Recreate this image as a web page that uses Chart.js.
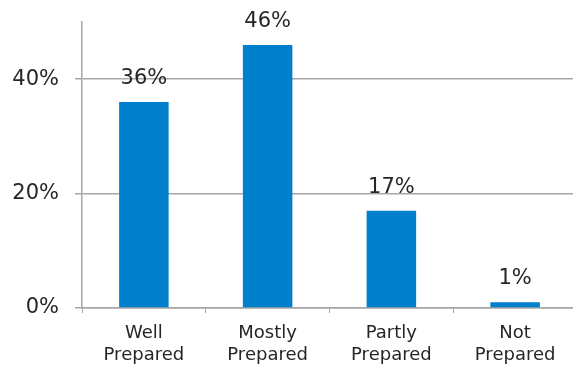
<!DOCTYPE html>
<html><head><meta charset="utf-8">
<script src="https://cdn.jsdelivr.net/npm/chart.js@4"></script>
<style>html,body{margin:0;padding:0;background:#fff;overflow:hidden}#wrap{width:577px;height:367px;position:relative}</style>
</head><body><div id="wrap"><canvas id="c"></canvas></div>
<script>
const categories = [['Well','Prepared'],['Mostly','Prepared'],['Partly','Prepared'],['Not','Prepared']];
const values = [36, 46, 17, 1];
const yTicks = [0, 20, 40];
const barColor = '#0080CC';
const textColor = '#262626';
const gridColor = '#A6A6A6';
const fontFamily = "'DejaVu Sans', sans-serif";

const labelPlugin = {
  id: 'valueLabels',
  afterDatasetsDraw(chart) {
    const ctx = chart.ctx;
    const meta = chart.getDatasetMeta(0);
    ctx.save();
    ctx.font = '21px ' + fontFamily;
    ctx.fillStyle = textColor;
    ctx.textAlign = 'center';
    ctx.textBaseline = 'alphabetic';
    meta.data.forEach((bar, i) => {
      ctx.fillText(values[i] + '%', bar.x, bar.y - 18);
    });
    ctx.restore();
  }
};

new Chart(document.getElementById('c'), {
  type: 'bar',
  data: { labels: categories, datasets: [{ data: values, backgroundColor: barColor, categoryPercentage: 1, barPercentage: 0.4 }] },
  options: {
    responsive: true, maintainAspectRatio: false, animation: false,
    layout: { padding: { top: 22, left: 0, right: 0, bottom: 0 } },
    plugins: { legend: { display: false }, tooltip: { enabled: false } },
    scales: {
      x: {
        afterFit(scale) { scale.height = 59; scale.paddingLeft = 0; scale.paddingRight = 0; },
        grid: { display: true, drawOnChartArea: false, drawTicks: true, tickLength: 5, color: gridColor, offset: true },
        border: { display: true, color: gridColor, width: 1.5 },
        ticks: { color: textColor, font: { family: fontFamily, size: 18, lineHeight: 1.25 }, padding: 9, maxRotation: 0 }
      },
      y: {
        min: 0, max: 50,
        afterFit(scale) { scale.width = 82; scale.paddingTop = 0; scale.paddingBottom = 0; },
        afterBuildTicks(scale) { scale.ticks = yTicks.map(v => ({ value: v })); },
        grid: { color: gridColor, lineWidth: 1.5, tickLength: 7 },
        border: { display: true, color: gridColor, width: 1.5 },
        ticks: { color: textColor, font: { family: fontFamily, size: 21 }, padding: 16, callback: v => v + '%' }
      }
    }
  },
  plugins: [labelPlugin]
});
</script></body></html>
